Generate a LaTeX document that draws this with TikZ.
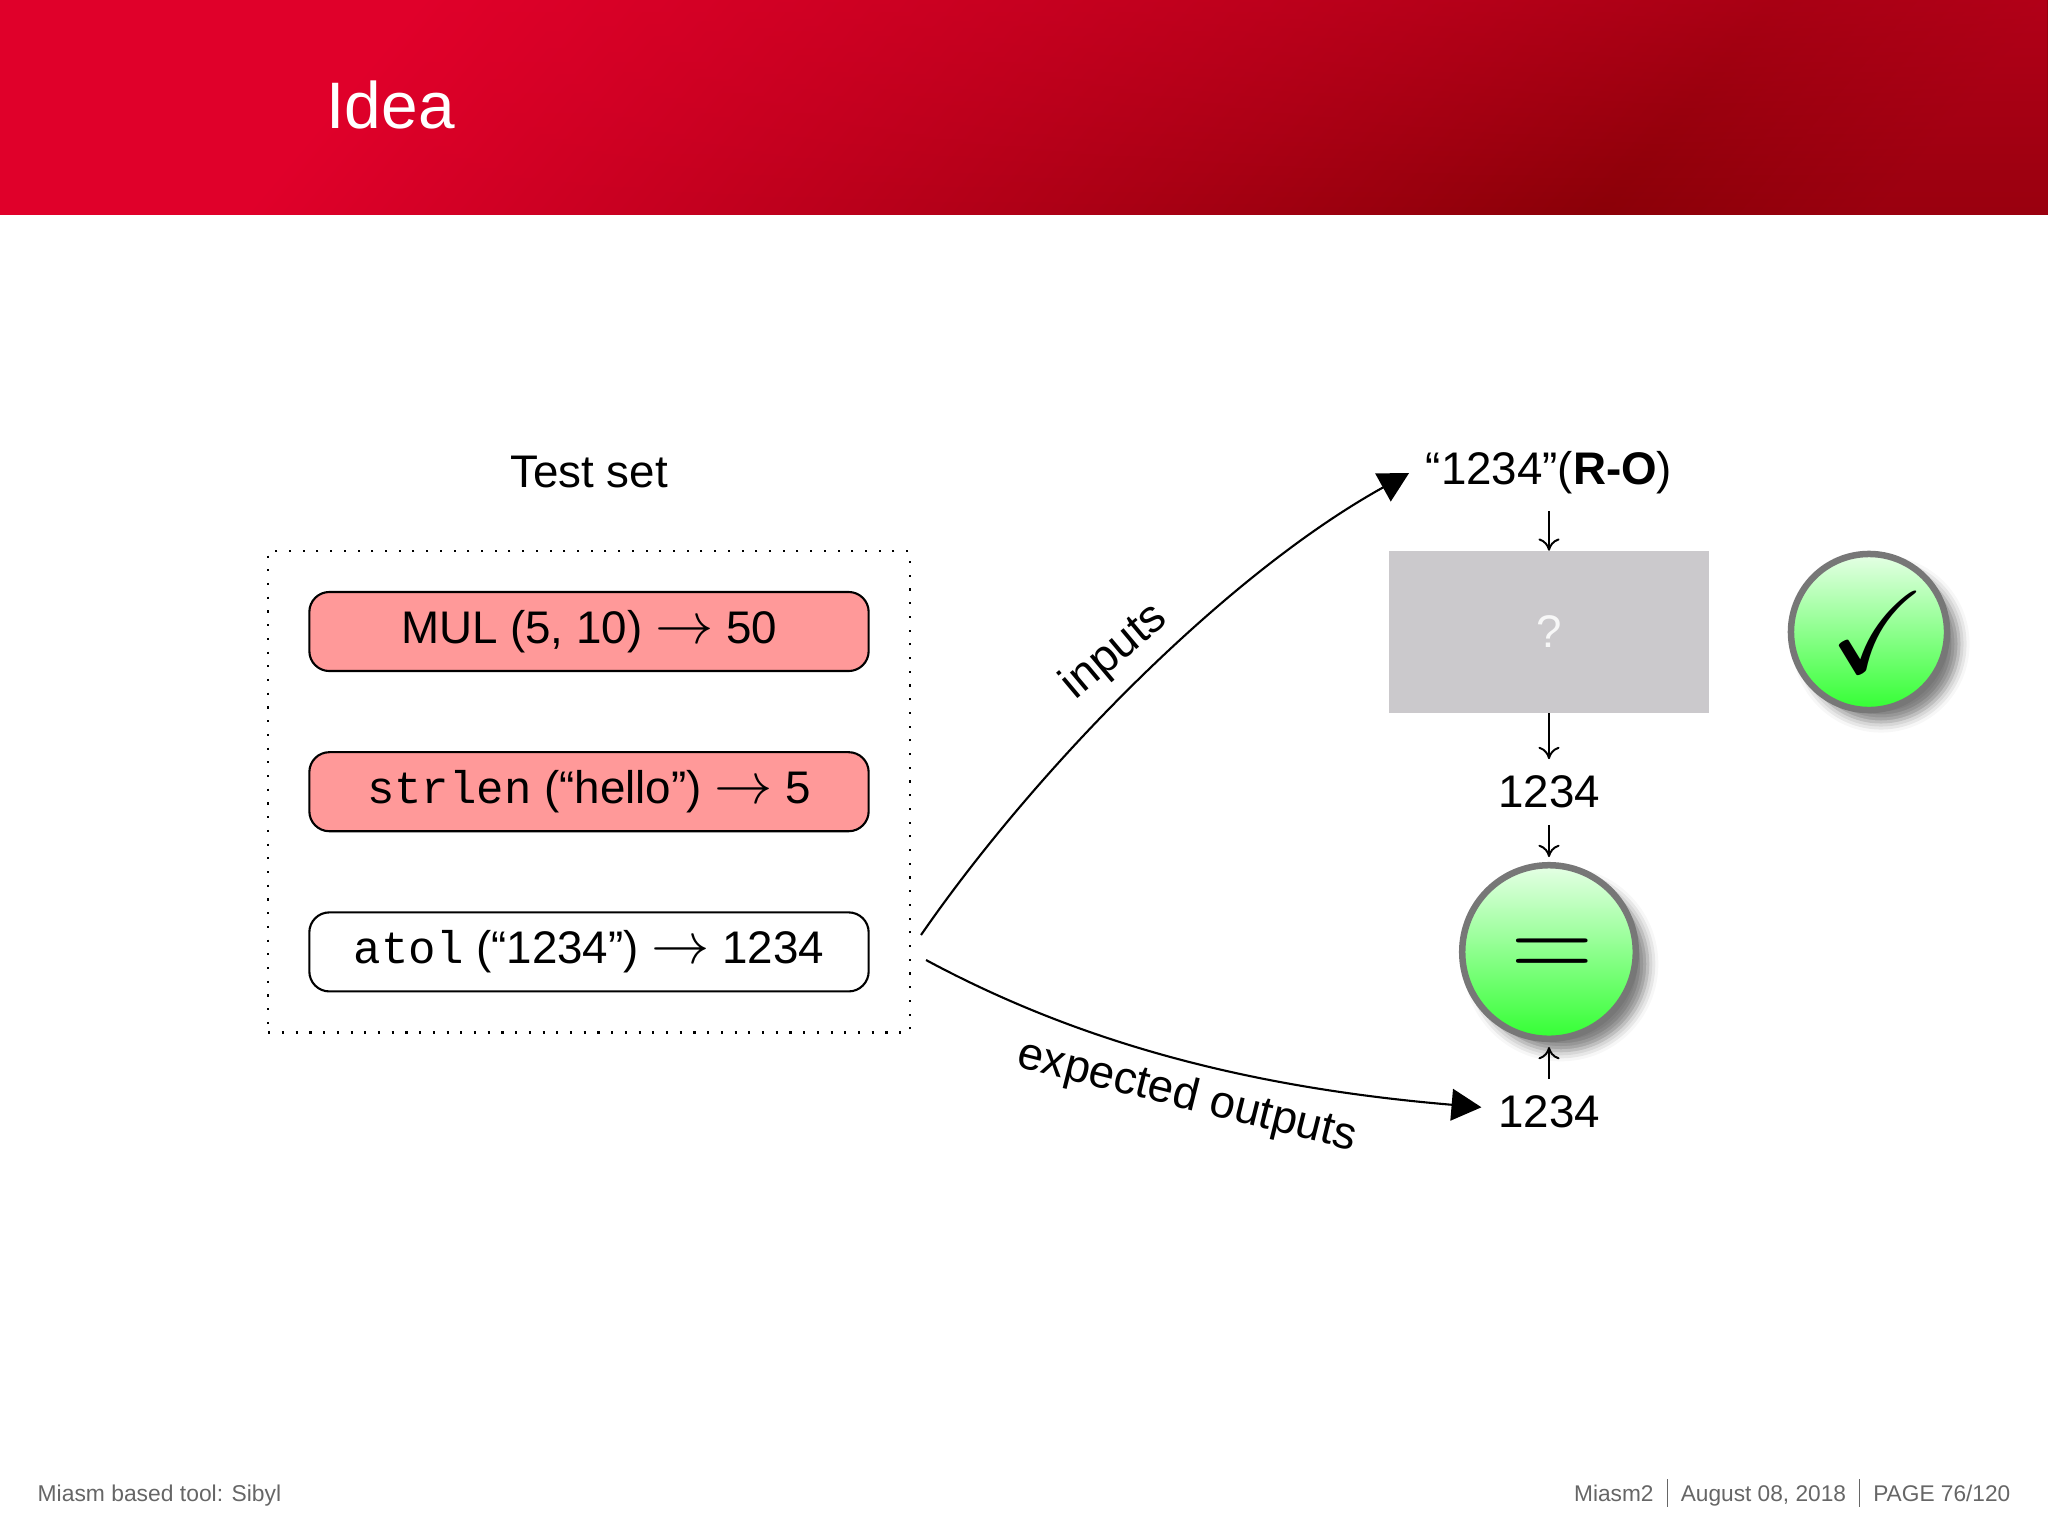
\documentclass[tikz,border=0pt]{standalone}
\usepackage{fontspec}
\usepackage{amssymb}
\setmainfont{Liberation Sans}
\setmonofont{Liberation Mono}
\usetikzlibrary{arrows.meta, positioning, fit, shadows.blur, fadings}
\definecolor{headbright}{HTML}{E0002A}
\definecolor{headdark}{HTML}{8B0008}
\definecolor{headright}{HTML}{9A000F}
\definecolor{testred}{HTML}{FF9999}
\definecolor{blackboxgray}{HTML}{CBC9CC}
\definecolor{ringgray}{HTML}{777777}
\definecolor{footgray}{HTML}{666666}
\pgfdeclarehorizontalshading{headshade}{100bp}{
  color(0bp)=(headbright); color(28bp)=(headbright);
  color(71bp)=(headdark); color(80bp)=(headright); color(100bp)=(headright)}
\tikzfading[name=headfade, top color=transparent!65, bottom color=transparent!100]
\newcommand{\testarrow}{\scalebox{1.38}{$\rightarrow$}}
\tikzset{
  testcase/.style={draw=black, line width=0.6pt, rounded corners=0.2cm, minimum width=5.59cm, minimum height=0.79cm, inner sep=0pt},
  valnode/.style={inner sep=0.16cm},
  resultbtn/.style={circle, draw=ringgray, line width=1.85pt, inner sep=0pt, top color=white!90!green, bottom color=green!80!white,
    blur shadow={shadow xshift=3.4pt, shadow yshift=-3.4pt, shadow blur radius=3pt, shadow opacity=50}},
  smallarrow/.style={-{To[length=3.5pt,width=6pt]}, line width=0.55pt},
  bigarrow/.style={-{Triangle[length=8.5pt,width=9pt]}, line width=0.6pt},
  curvelabel/.style={inner sep=0pt}
}

\begin{document}
\begin{tikzpicture}[x=0.01cm, y=-0.01cm, font=\fontsize{13}{14}\selectfont]
  \useasboundingbox (0,0) rectangle (2048,1536);

  % Slide frame
  \shade[shading=headshade, shading angle=-40] (0,0) rectangle (2048,214);
  \fill[headbright, path fading=headfade] (0,0) rectangle (2048,214);
  \node[white, anchor=base west, inner sep=0pt, font=\fontsize{18.7}{20}\selectfont] (title) at (326,128) {Idea};
  \node[footgray, anchor=base west, inner sep=0pt, font=\fontsize{6.5}{7}\selectfont] (footleft) at (37,1501) {Miasm based tool: Sibyl};
  \node[footgray, anchor=base east, inner sep=0pt, font=\fontsize{6.45}{7}\selectfont] (footright) at (2011,1501)
    {Miasm2\hspace{3.7pt}\rule[-1.6pt]{0.35pt}{8pt}\hspace{3.7pt}August 08, 2018\hspace{3.7pt}\rule[-1.6pt]{0.35pt}{8pt}\hspace{3.7pt}PAGE 76/120};

  % Test set
  \node (mul) [testcase, fill=testred] at (589,631.5) {MUL (5, 10) \testarrow{} 50};
  \node (strlen) [testcase, fill=testred, below=0.79cm of mul] {\texttt{strlen} (“hello”) \testarrow{} 5};
  \node (atol) [testcase, below=0.79cm of strlen] {\texttt{atol} (“1234”) \testarrow{} 1234};
  \node (testbox) [fit=(mul)(strlen)(atol), inner sep=0.4cm, draw, line width=0.6pt, dash pattern=on 0.6pt off 3.3pt] {};
  \node (testlabel) at (589,472) {Test set};

  % Function under test
  \node (roinput) [valnode] at (1549,473) {“1234”(\textbf{R-O})};
  \node (blackbox) [fill=blackboxgray, minimum width=3.2cm, minimum height=1.61cm, text=white!85!blackboxgray, inner sep=0pt] at (1549,632) {?};
  \node (output) [valnode] at (1549,792) {1234};
  \node (compare) [resultbtn, minimum size=1.735cm] at (1549,952) {\hspace{1.7pt}\raisebox{-7.65pt}[0pt][0pt]{\scalebox{2.6}{$=$}}};
  \node (expected) [valnode] at (1549,1112) {1234};
  \node (verdict) [resultbtn, minimum size=1.56cm, text=black] at (1869,632) {\hspace{5pt}\scalebox{2.55}{$\checkmark$}};

  \coordinate (inputstart) at (921,935);
  \coordinate (expectedstart) at (926,960);

  \draw[bigarrow] (inputstart) .. controls (1035,770) and (1225,575) .. (roinput.west);
  \draw[bigarrow] (expectedstart) .. controls (1084,1045) and (1254,1088) .. (expected.176);
  \draw[smallarrow] (roinput) -- (blackbox);
  \draw[smallarrow] (blackbox) -- (output);
  \draw[smallarrow] (output) -- ([yshift=1.4pt]compare.north);
  \draw[smallarrow] (expected) -- ([yshift=-1.4pt]compare.south);

  \node (inputslabel) [curvelabel, rotate=40] at (1115,652) {inputs};
  \node (expectedlabel) [curvelabel, rotate=-14] at (1187,1097) {expected outputs};
\end{tikzpicture}
\end{document}
